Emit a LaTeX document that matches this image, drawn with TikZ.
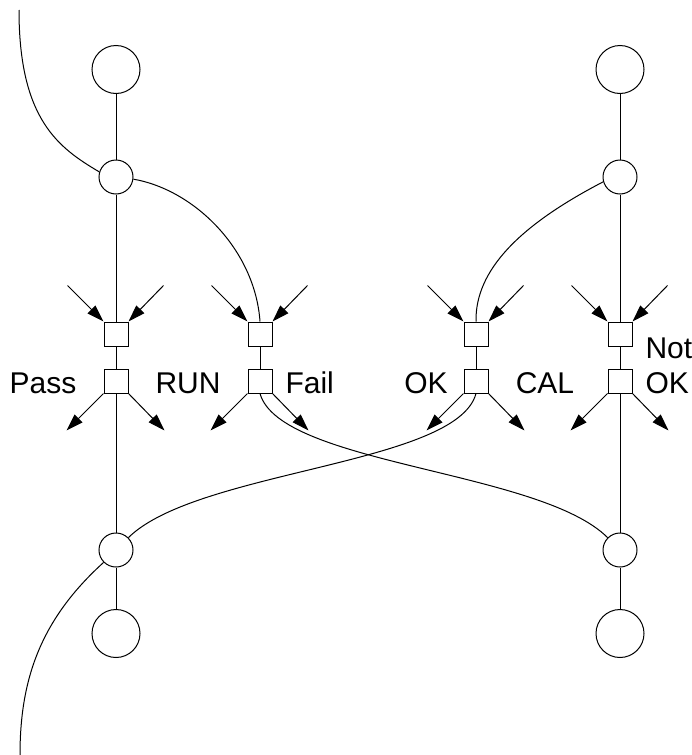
\documentclass[tikz,border=0pt]{standalone}
\usepackage{fontspec}
\setmainfont{Liberation Sans}
\usepackage{tikz}
\usetikzlibrary{arrows.meta, positioning, calc}

\begin{document}
\begin{tikzpicture}[x=1pt, y=-1pt, line width=1pt,
    bigplace/.style={draw, circle, minimum size=48pt, inner sep=0pt},
    smallplace/.style={draw, circle, minimum size=34pt, inner sep=0pt},
    gatebox/.style={draw, rectangle, minimum size=24pt, inner sep=0pt},
    flow/.style={-{Triangle[length=17pt, width=11pt]}},
    lbl/.style={font=\fontsize{30}{36}\selectfont, inner sep=0pt}]
    \useasboundingbox (0,0) rectangle (692,755);

    % Outer columns (places and gates)
    \foreach \c/\x in {1/116, 4/620} {
        \node[bigplace] (b\c) at (\x,69.5) {};
        \node[smallplace] (t\c) at (\x,177) {};
        \node[smallplace] (s\c) at (\x,550) {};
        \node[bigplace] (d\c) at (\x,633.5) {};
    }

    % Gates
    \foreach \c/\x in {1/116, 2/260, 3/476, 4/620} {
        \node[gatebox] (u\c) at (\x,334) {};
        \node[gatebox] (l\c) at (\x,381) {};
        \draw (u\c) -- (l\c);
        % incoming and outgoing arrows
        \coordinate (ia\c) at ($(u\c.north west)+(-36,-36)$);
        \coordinate (ib\c) at ($(u\c.north east)+(35,-36)$);
        \coordinate (oa\c) at ($(l\c.south west)+(-37,37)$);
        \coordinate (ob\c) at ($(l\c.south east)+(36,37)$);
        \draw[flow] (ia\c) -- (u\c.north west);
        \draw[flow] (ib\c) -- (u\c.north east);
        \draw[flow] (l\c.south west) -- (oa\c);
        \draw[flow] (l\c.south east) -- (ob\c);
    }

    % Vertical links
    \foreach \c in {1, 4} {
        \draw (b\c) -- (t\c) -- (u\c);
        \draw (l\c) -- (s\c) -- (d\c);
    }

    % Curved links
    \coordinate (topin) at (19,10);
    \coordinate (botout) at (20,755);
    \draw (topin) .. controls (19,120) and (59,148) .. (t1.163);
    \draw (t1.-7) .. controls (195,190) and (255,250) .. (u2.north);
    \draw (t4.196) .. controls (520,225) and (475,270) .. (u3.north);
    \draw (l2.south) .. controls (280,465) and (540,470) .. (s4.135);
    \draw (l3.south) .. controls (457,465) and (197,470) .. (s1.45);
    \draw (s1.225) .. controls (40,620) and (20,680) .. (botout);

    % Labels
    \node[lbl, anchor=base] (pass) at (43,393) {Pass};
    \node[lbl, anchor=base] (run) at (188,393) {RUN};
    \node[lbl, anchor=base west] (fail) at (285,393) {Fail};
    \node[lbl, anchor=base] (ok) at (426,393) {OK};
    \node[lbl, anchor=base] (cal) at (545,393) {CAL};
    \node[lbl, anchor=base west] (not) at (645,358) {Not};
    \node[lbl, anchor=base west] (notok) at (645,393) {OK};
\end{tikzpicture}
\end{document}
